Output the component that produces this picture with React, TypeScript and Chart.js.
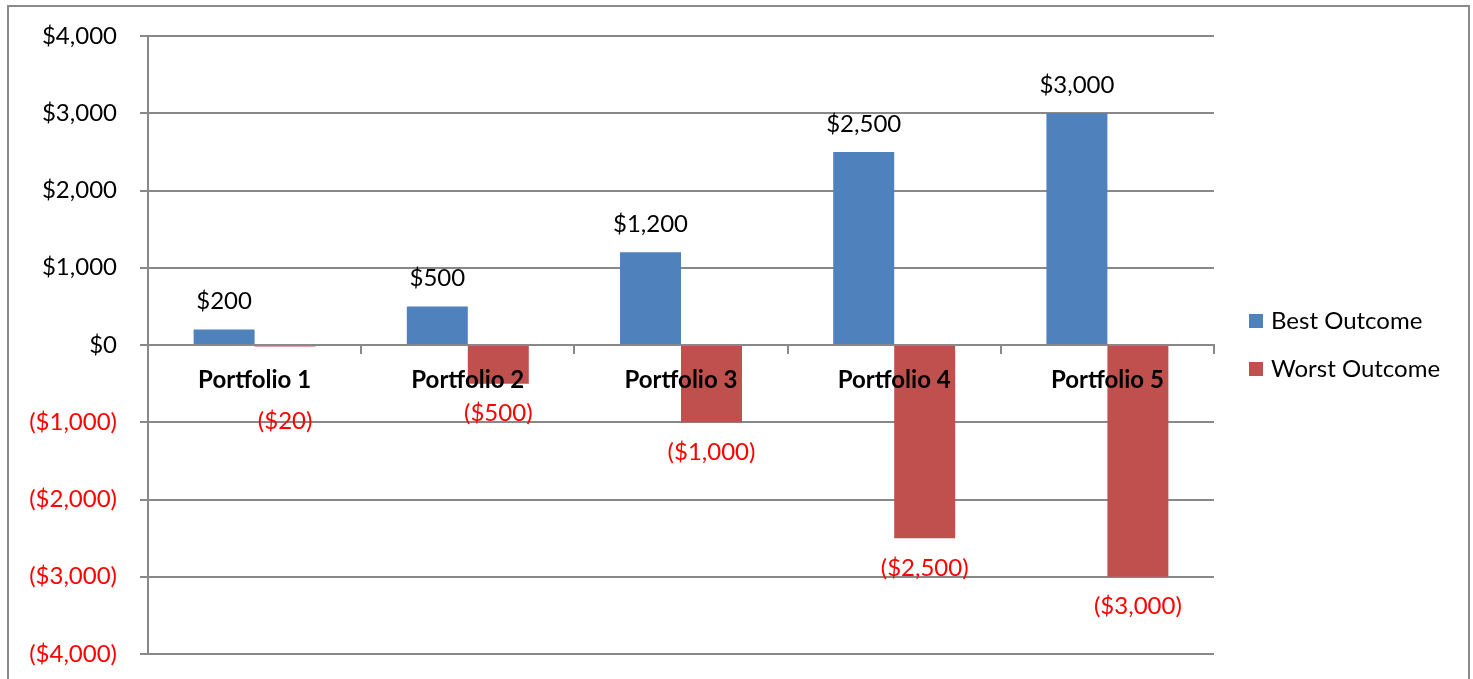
import React, { useEffect, useRef } from "react";
import { Chart, registerables } from "chart.js";

Chart.register(...registerables);

const categories = ["Portfolio 1", "Portfolio 2", "Portfolio 3", "Portfolio 4", "Portfolio 5"];
const bestOutcome = [200, 500, 1200, 2500, 3000];
const worstOutcome = [-20, -500, -1000, -2500, -3000];
const seriesNames = ["Best Outcome", "Worst Outcome"];
const yMin = -4000;
const yMax = 4000;
const yStep = 1000;

const FONT = "Lato, 'Open Sans', sans-serif";
const GRID = "#888888";

function fmt(v: number): string {
  const s = "$" + Math.abs(v).toLocaleString("en-US");
  return v < 0 ? "(" + s + ")" : s;
}

const dataLabelPlugin = {
  id: "dataLabels",
  afterDatasetsDraw(chart: any) {
    const ctx = chart.ctx;
    ctx.save();
    ctx.font = `normal 24px ${FONT}`;
    ctx.textAlign = "center";
    ctx.textBaseline = "middle";
    chart.data.datasets.forEach((ds: any, di: number) => {
      const meta = chart.getDatasetMeta(di);
      meta.data.forEach((bar: any, i: number) => {
        const v = ds.data[i];
        const props = bar.getProps(["x", "y", "base"], true);
        let y: number;
        if (v >= 0) {
          ctx.fillStyle = "#000000";
          y = props.y - 28;
        } else {
          ctx.fillStyle = "#FF0000";
          y = Math.abs(props.y - props.base) < 15 ? props.base + 75 : props.y + 30;
        }
        ctx.fillText(fmt(v), props.x, y);
      });
    });
    ctx.restore();
  },
};

const legendPlugin = {
  id: "sideLegend",
  afterDraw(chart: any) {
    const ctx = chart.ctx;
    const area = chart.chartArea;
    const cy = (area.top + area.bottom) / 2;
    ctx.save();
    ctx.font = `normal 24px ${FONT}`;
    ctx.textAlign = "left";
    ctx.textBaseline = "middle";
    chart.data.datasets.forEach((ds: any, i: number) => {
      const y = cy + (i - 0.5) * 48;
      const x = area.right + 35;
      ctx.fillStyle = ds.backgroundColor;
      ctx.fillRect(x, y - 7, 14, 14);
      ctx.fillStyle = "#000000";
      ctx.fillText(ds.label, x + 22, y);
    });
    ctx.restore();
  },
};

export default function App() {
  const ref = useRef<HTMLCanvasElement | null>(null);
  useEffect(() => {
    if (!ref.current) return;
    const chart = new Chart(ref.current, {
      type: "bar",
      data: {
        labels: categories,
        datasets: [
          { label: seriesNames[0], data: bestOutcome, backgroundColor: "#4F81BD" },
          { label: seriesNames[1], data: worstOutcome, backgroundColor: "#C0504D" },
        ],
      },
      options: {
        responsive: true,
        maintainAspectRatio: false,
        animation: false,
        categoryPercentage: 0.572,
        barPercentage: 1,
        layout: { padding: { left: 0, top: 36, right: 259, bottom: 25 } },
        plugins: { legend: { display: false }, tooltip: { enabled: false } },
        scales: {
          x: {
            type: "category",
            position: { y: 0 } as any,
            offset: true,
            afterFit: (scale: any) => {
              scale.height = 0;
              scale.paddingTop = 0;
              scale.paddingBottom = 0;
            },
            grid: {
              offset: true,
              drawOnChartArea: false,
              drawTicks: true,
              tickLength: 8,
              color: GRID,
              lineWidth: 2,
            },
            border: { display: true, color: GRID, width: 2, z: 1 } as any,
            ticks: {
              z: 1,
              color: "#000000",
              padding: 13,
              maxRotation: 0,
              autoSkip: false,
              font: { family: FONT, size: 24, weight: "bold" },
            },
          },
          y: {
            min: yMin,
            max: yMax,
            afterFit: (scale: any) => {
              scale.width = 148;
              scale.paddingTop = 0;
              scale.paddingBottom = 0;
            },
            grid: { color: GRID, lineWidth: 2, tickLength: 8, drawTicks: true },
            border: { display: true, color: GRID, width: 2 },
            ticks: {
              stepSize: yStep,
              padding: 23,
              color: (c: any) => (c.tick && c.tick.value < 0 ? "#FF0000" : "#000000"),
              font: { family: FONT, size: 24 },
              callback: (v: any) => fmt(Number(v)),
            },
          },
        },
      },
      plugins: [dataLabelPlugin, legendPlugin],
    });
    return () => chart.destroy();
  }, []);

  return (
    <div style={{ position: "fixed", left: 0, top: 0, width: 1473, height: 679, background: "#ffffff" }}>
      <div
        style={{
          position: "absolute",
          left: 7,
          top: 5,
          width: 1459,
          height: 720,
          border: "2px solid #8a8a8a",
          pointerEvents: "none",
        }}
      />
      <div style={{ position: "absolute", left: 0, top: 0, width: 1473, height: 679 }}>
        <canvas ref={ref} />
      </div>
    </div>
  );
}
